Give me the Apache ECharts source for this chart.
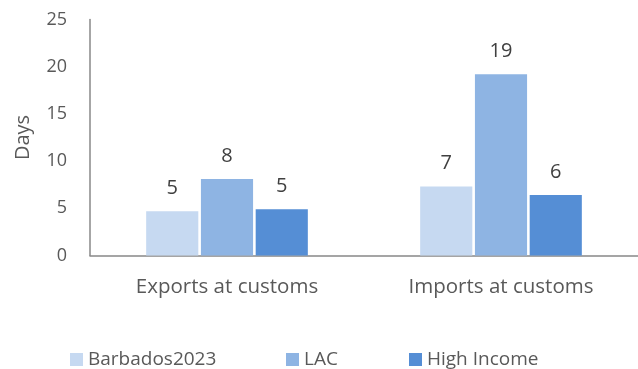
<!DOCTYPE html>
<html>
<head>
<meta charset="utf-8">
<script src="https://cdn.jsdelivr.net/npm/echarts@6/dist/echarts.min.js"></script>
<style>
  html, body { margin: 0; padding: 0; background: #fff; }
  #chart { width: 638px; height: 369px; }
</style>
</head>
<body>
<div id="chart"></div>
<script>
// Days to clear customs, by trade direction
const categories = ['Exports at customs', 'Imports at customs'];
const seriesNames = ['Barbados2023', 'LAC', 'High Income'];
const barbados = [4.7, 7.3];
const lac = [8.1, 19.2];
const highIncome = [4.9, 6.4];
const yTicks = [0, 5, 10, 15, 20, 25];

const colors = ['#C6D9F1', '#8EB4E3', '#558ED5'];
const font = '"Open Sans", sans-serif';
const textColor = '#595959';

const chart = echarts.init(document.getElementById('chart'));

function makeSeries(name, values, color) {
  return {
    name: name,
    type: 'bar',
    data: values,
    barGap: '5%',
    barCategoryGap: '41%',
    itemStyle: { color: color },
    label: {
      show: true,
      position: 'top',
      distance: 13,
      color: '#404040',
      fontFamily: font,
      fontSize: 20,
      formatter: p => Math.round(p.value).toString()
    }
  };
}

function legendAt(left, name) {
  return {
    data: [name],
    left: left,
    top: 350,
    padding: 0,
    itemWidth: 13,
    itemHeight: 13,
    icon: 'rect',
    itemGap: 6,
    textStyle: { color: textColor, fontFamily: font, fontSize: 19 }
  };
}

chart.setOption({
  animation: false,
  color: colors,
  grid: { left: 90, right: 0, top: 19.5, bottom: 113.5, containLabel: false },
  legend: [
    legendAt(70, seriesNames[0]),
    legendAt(286, seriesNames[1]),
    legendAt(409, seriesNames[2])
  ],
  xAxis: {
    type: 'category',
    data: categories,
    axisLine: { show: true, lineStyle: { color: '#888888', width: 1.5 } },
    axisTick: { show: false },
    axisLabel: { color: textColor, fontFamily: font, fontSize: 20.5, margin: 21 }
  },
  yAxis: {
    type: 'value',
    min: yTicks[0],
    max: yTicks[yTicks.length - 1],
    interval: yTicks[1] - yTicks[0],
    name: 'Days',
    nameLocation: 'middle',
    nameGap: 57,
    nameRotate: 90,
    nameTextStyle: { color: textColor, fontFamily: font, fontSize: 20 },
    splitLine: { show: false },
    axisTick: { show: false },
    axisLine: { show: true, lineStyle: { color: '#888888', width: 1.5 } },
    axisLabel: { color: textColor, fontFamily: font, fontSize: 18, margin: 23 }
  },
  series: [
    makeSeries(seriesNames[0], barbados, colors[0]),
    makeSeries(seriesNames[1], lac, colors[1]),
    makeSeries(seriesNames[2], highIncome, colors[2])
  ]
});
</script>
</body>
</html>
